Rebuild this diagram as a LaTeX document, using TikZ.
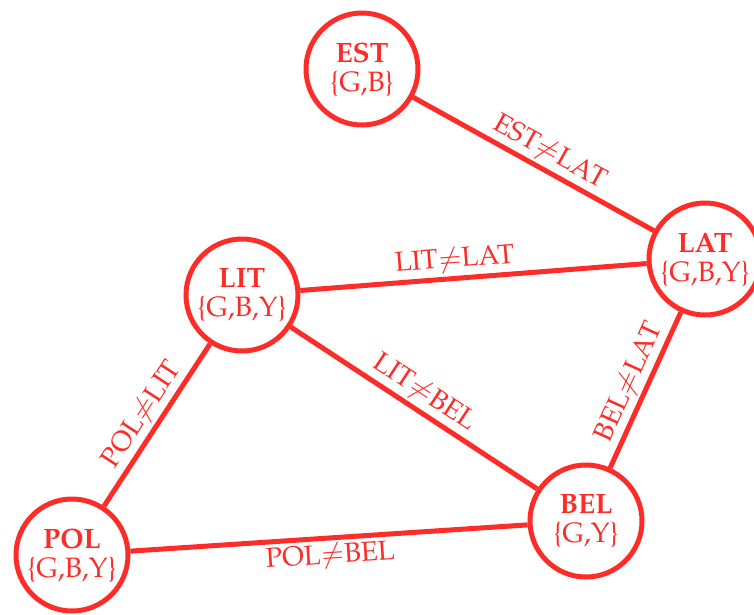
\documentclass[tikz,border=0pt]{standalone}
\usepackage[T1]{fontenc}
\usepackage{mathpazo}
\definecolor{cred}{RGB}{252,44,40}
\tikzset{
  region/.style={circle, draw=cred, line width=5pt, minimum size=112pt, inner sep=0pt,
                 text=cred, align=center, font=\fontsize{28}{29}\selectfont},
  link/.style={draw=cred, line width=5pt},
  lab/.style={text=cred, font=\fontsize{27.5}{29}\selectfont, sloped, inner sep=3pt}
}
\begin{document}
\begin{tikzpicture}[x=1pt, y=-1pt]
  \useasboundingbox (0,0) rectangle (754,614);
  \node[region] (est) at (362,69)  {\textbf{EST}\\\{G,B\}};
  \node[region] (lat) at (705,259) {\textbf{LAT}\\\{G,B,Y\}};
  \node[region] (lit) at (242,295) {\textbf{LIT}\\\{G,B,Y\}};
  \node[region] (bel) at (586,521) {\textbf{BEL}\\\{G,Y\}};
  \node[region] (pol) at (72,555)  {\textbf{POL}\\\{G,B,Y\}};

  \draw[link] (est) -- node[lab, above, pos=0.53] {EST$\neq$LAT} (lat);
  \draw[link] (lit) -- node[lab, above, pos=0.45] {LIT$\neq$LAT} (lat);
  \draw[link] (lit) -- node[lab, above, pos=0.5] {LIT$\neq$BEL} (bel);
  \draw[link] (pol) -- node[lab, above, pos=0.5] {POL$\neq$LIT} (lit);
  \draw[link] (pol) -- node[lab, below, pos=0.5] {POL$\neq$BEL} (bel);
  \draw[link] (bel) -- node[lab, above, pos=0.5] {BEL$\neq$LAT} (lat);
\end{tikzpicture}
\end{document}
